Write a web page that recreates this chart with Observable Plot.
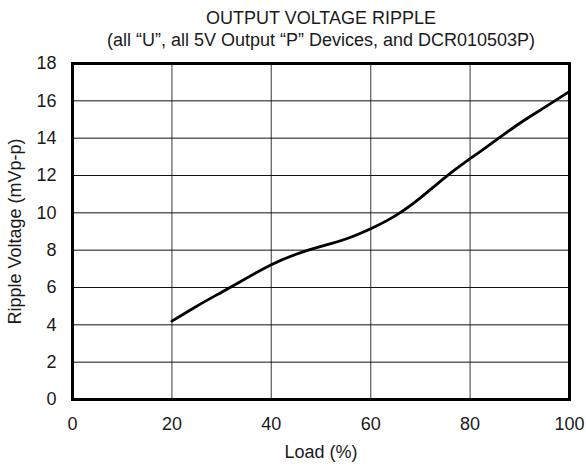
<!DOCTYPE html>
<html>
<head>
<meta charset="utf-8">
<script src="https://cdn.jsdelivr.net/npm/d3@7"></script>
<script src="https://cdn.jsdelivr.net/npm/@observablehq/plot@0.6"></script>
<style>
  body { margin: 0; background: #fff; font-family: "Liberation Sans", Arial, sans-serif; color: #1a1a1a; }
  #wrap { width: 586px; }
  .t { width: 586px; box-sizing: border-box; padding-left: 56px; text-align: center; font-size: 18px; line-height: 22px; white-space: nowrap; }
  #title { margin-top: 7px; }
</style>
</head>
<body>
<div id="wrap">
  <div class="t" id="title">OUTPUT VOLTAGE RIPPLE</div>
  <div class="t" id="subtitle">(all “U”, all 5V Output “P” Devices, and DCR010503P)</div>
  <div id="chart"></div>
</div>
<script>
const load = [20, 25, 30, 35, 40, 45, 50, 55, 60, 65, 70, 75, 80, 85, 90, 95, 100];
const ripple = [4.2, 5.0, 5.75, 6.5, 7.22, 7.78, 8.2, 8.6, 9.15, 9.85, 10.8, 11.9, 12.9, 13.85, 14.8, 15.65, 16.5];
const xTicks = [0, 20, 40, 60, 80, 100];
const yTicks = [0, 2, 4, 6, 8, 10, 12, 14, 16, 18];
const xLabel = "Load (%)";
const yLabel = "Ripple Voltage (mVp-p)";

const data = load.map((x, i) => ({x, y: ripple[i]}));
const xGrid = xTicks.slice(1, -1);
const yGrid = yTicks.slice(1, -1);

const chart = Plot.plot({
  width: 586,
  height: 416,
  marginTop: 12,
  marginBottom: 68,
  marginLeft: 72,
  marginRight: 17,
  style: {fontFamily: "Liberation Sans, Arial, sans-serif", fontSize: "18px", color: "#1a1a1a", background: "#fff"},
  x: {domain: [0, 100], ticks: xTicks},
  y: {domain: [0, 18], ticks: yTicks},
  marks: [
    Plot.ruleX(xGrid, {stroke: "#666", strokeWidth: 1.3}),
    Plot.ruleY(yGrid, {stroke: "#111", strokeWidth: 1}),
    Plot.line(data, {x: "x", y: "y", curve: "natural", stroke: "#000", strokeWidth: 2.8}),
    Plot.frame({stroke: "#000", strokeWidth: 3}),
    Plot.axisX(xTicks, {tickSize: 0, tickPadding: 18, label: null, fontSize: 18}),
    Plot.axisY(yTicks, {tickSize: 0, tickPadding: 16, label: null, fontSize: 18}),
    Plot.text([xLabel], {frameAnchor: "bottom", dy: 53, fontSize: 18, lineAnchor: "middle"}),
    Plot.text([yLabel], {frameAnchor: "left", dx: -57, rotate: -90, fontSize: 18, lineAnchor: "middle", textAnchor: "middle"})
  ]
});
document.getElementById("chart").appendChild(chart);
</script>
</body>
</html>
